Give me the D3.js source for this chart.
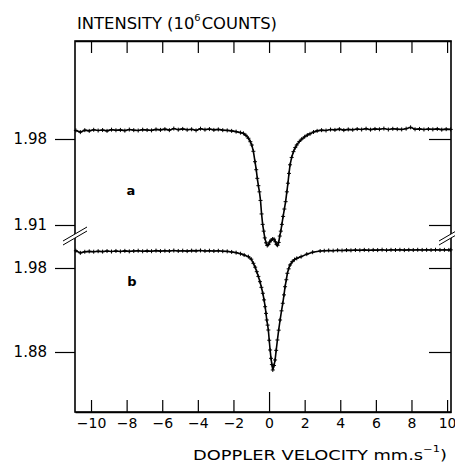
<!DOCTYPE html>
<html>
<head>
<meta charset="utf-8">
<script src="https://cdn.jsdelivr.net/npm/d3@7"></script>
<style>
  body { margin: 0; background: #fff; }
  svg { display: block; font-family: "DejaVu Sans", sans-serif; }
</style>
</head>
<body>
<script>
//spectrum a (upper trace) - doppler velocity (mm/s) and counts (10^6)
var velocityA = [-10.85, -10.6, -10.35, -10.1, -9.85, -9.6, -9.35, -9.1, -8.85, -8.6,
  -8.35, -8.1, -7.85, -7.6, -7.35, -7.1, -6.85, -6.6, -6.35, -6.1,
  -5.85, -5.6, -5.35, -5.1, -4.85, -4.6, -4.35, -4.1, -3.85, -3.6,
  -3.35, -3.1, -2.85, -2.6, -2.35, -2.1, -1.85, -1.6,
  -1.44, -1.3, -1.16, -1.05, -0.97, -0.88, -0.79, -0.72, -0.66, -0.6,
  -0.54, -0.48, -0.42, -0.36, -0.3, -0.24, -0.17, -0.1, -0.03, 0.04,
  0.12, 0.2, 0.28, 0.35, 0.42, 0.48, 0.54, 0.6, 0.66, 0.72,
  0.79, 0.86, 0.93, 1.0, 1.06, 1.12, 1.18, 1.27, 1.37, 1.47,
  1.56, 1.7, 1.84, 2.0, 2.15, 2.3, 2.5, 2.7,
  2.95, 3.2, 3.45, 3.7, 3.95, 4.2, 4.45, 4.7, 4.95, 5.2,
  5.45, 5.7, 5.95, 6.2, 6.45, 6.7, 6.95, 7.2, 7.45, 7.7,
  7.95, 8.2, 8.45, 8.7, 8.95, 9.2, 9.45, 9.7, 9.95, 10.2];
var countsA = [1.9870, 1.9856, 1.9872, 1.9866, 1.9875, 1.9869, 1.9873, 1.9866, 1.9876, 1.9871,
  1.9874, 1.9868, 1.9877, 1.9872, 1.9869, 1.9876, 1.9873, 1.9870, 1.9878, 1.9874,
  1.9880, 1.9872, 1.9885, 1.9876, 1.9882, 1.9875, 1.9879, 1.9870, 1.9884, 1.9876,
  1.9881, 1.9874, 1.9878, 1.9872, 1.9870, 1.9866, 1.9860, 1.9852,
  1.9846, 1.9830, 1.9806, 1.9778, 1.9751, 1.9700, 1.9615, 1.9550, 1.9480, 1.9420,
  1.9370, 1.9300, 1.9190, 1.9105, 1.9050, 1.8995, 1.8955, 1.8933, 1.8942, 1.8962,
  1.8978, 1.8986, 1.8984, 1.8964, 1.8942, 1.8935, 1.8958, 1.9010, 1.9050, 1.9105,
  1.9170, 1.9230, 1.9290, 1.9370, 1.9440, 1.9520, 1.9590, 1.9650, 1.9697, 1.9730,
  1.9752, 1.9780, 1.9800, 1.9818, 1.9832, 1.9842, 1.9857, 1.9866,
  1.9872, 1.9869, 1.9877, 1.9874, 1.9880, 1.9872, 1.9878, 1.9875, 1.9881, 1.9877,
  1.9884, 1.9876, 1.9882, 1.9879, 1.9885, 1.9877, 1.9883, 1.9880, 1.9878, 1.9884,
  1.9895, 1.9879, 1.9882, 1.9877, 1.9881, 1.9878, 1.9882, 1.9876, 1.9880, 1.9878];

//spectrum b (lower trace)
var velocityB = [-10.85, -10.6, -10.35, -10.1, -9.85, -9.6, -9.35, -9.1, -8.85, -8.6,
  -8.35, -8.1, -7.85, -7.6, -7.35, -7.1, -6.85, -6.6, -6.35, -6.1,
  -5.85, -5.6, -5.35, -5.1, -4.85, -4.6, -4.35, -4.1, -3.85, -3.6,
  -3.35, -3.1, -2.85, -2.6, -2.35, -2.1, -1.85, -1.6,
  -1.4, -1.16, -1.0, -0.88, -0.78, -0.69, -0.6, -0.51, -0.43, -0.35,
  -0.28, -0.22, -0.17, -0.13, -0.08, -0.04, 0.01, 0.06, 0.11, 0.16,
  0.21, 0.28, 0.34, 0.4, 0.47, 0.54, 0.62, 0.7, 0.77, 0.84,
  0.9, 0.97, 1.03, 1.1, 1.18, 1.3, 1.43, 1.56, 1.8, 2.12,
  2.45, 2.87,
  3.1, 3.35, 3.6, 3.85, 4.1, 4.35, 4.6, 4.85, 5.1, 5.35,
  5.6, 5.85, 6.1, 6.35, 6.6, 6.85, 7.1, 7.35, 7.6, 7.85,
  8.1, 8.35, 8.6, 8.85, 9.1, 9.35, 9.6, 9.85, 10.1, 10.2];
var countsB = [2.0005, 1.9980, 1.9993, 1.9998, 1.9994, 2.0000, 1.9995, 2.0002, 1.9996, 2.0003,
  1.9997, 2.0004, 1.9998, 2.0002, 2.0006, 1.9999, 2.0004, 2.0000, 2.0007, 2.0001,
  2.0005, 2.0002, 2.0008, 2.0003, 2.0006, 2.0001, 2.0007, 2.0004, 2.0009, 2.0003,
  2.0006, 2.0002, 2.0005, 2.0000, 1.9998, 1.9991, 1.9983, 1.9970,
  1.9955, 1.9935, 1.9905, 1.9856, 1.9810, 1.9756, 1.9700, 1.9637, 1.9570, 1.9499,
  1.9420, 1.9339, 1.9260, 1.9181, 1.9120, 1.9062, 1.8940, 1.8824, 1.8725, 1.8650,
  1.8586, 1.8640, 1.8705, 1.8820, 1.8943, 1.9060, 1.9181, 1.9290, 1.9380, 1.9480,
  1.9577, 1.9660, 1.9737, 1.9790, 1.9836, 1.9875, 1.9900, 1.9915, 1.9935, 1.9965,
  1.9988, 2.0002,
  2.0005, 2.0009, 2.0006, 2.0011, 2.0008, 2.0013, 2.0010, 2.0014, 2.0011, 2.0016,
  2.0012, 2.0015, 2.0013, 2.0018, 2.0012, 2.0016, 2.0014, 2.0017, 2.0013, 2.0016,
  2.0014, 2.0017, 2.0015, 2.0016, 2.0014, 2.0017, 2.0015, 2.0016, 2.0015, 2.0016];

//tick values
var velocityTicks = [-10, -8, -6, -4, -2, 0, 2, 4, 6, 8, 10];
var ticksA = [1.98, 1.91];
var ticksB = [1.98, 1.88];

//frame dimensions
var width = 455,
    height = 464,
    frameL = 75, frameR = 451, frameT = 41, frameB = 412;

var svg = d3.select("body")
    .append("svg")
    .attr("width", width)
    .attr("height", height);

//x scale (doppler velocity)
var x = d3.scaleLinear()
    .domain([-10.9, 10.22])
    .range([frameL, frameR]);

//two y scales, one per trace (broken axis)
var yA = d3.scaleLinear()
    .domain([1.91, 1.98])
    .range([225, 139]);

var yB = d3.scaleLinear()
    .domain([1.88, 1.98])
    .range([352, 268]);

var fmt = d3.format(".2f");

//bottom axis, ticks pointing in
var xAxis = svg.append("g")
    .attr("class", "xaxis")
    .attr("transform", "translate(0," + frameB + ")")
    .call(d3.axisBottom(x).tickValues(velocityTicks)
      .tickSizeInner(-12).tickSizeOuter(0).tickPadding(6)
      .tickFormat(d3.format("d")));
xAxis.selectAll(".tick line")
    .attr("y2", function(d){ return d === 0 ? -20 : -12; });
xAxis.selectAll("text")
    .attr("font-size", 14)
    .attr("font-family", "DejaVu Sans");

//top axis, ticks only
svg.append("g")
    .attr("transform", "translate(0," + frameT + ")")
    .call(d3.axisBottom(x).tickValues(velocityTicks)
      .tickSize(12).tickSizeOuter(0).tickFormat(""));

//left axes with labels
[[yA, ticksA], [yB, ticksB]].forEach(function(p){
  var g = svg.append("g")
      .attr("transform", "translate(" + frameL + ",0)")
      .call(d3.axisLeft(p[0]).tickValues(p[1])
        .tickSize(20).tickPadding(8).tickFormat(fmt));
  g.select(".domain").remove();
  g.selectAll("text")
      .attr("font-size", 15)
      .attr("font-family", "DejaVu Sans");
  //right side, inward ticks
  var r = svg.append("g")
      .attr("transform", "translate(" + frameR + ",0)")
      .call(d3.axisLeft(p[0]).tickValues(p[1])
        .tickSize(22).tickFormat(""));
  r.select(".domain").remove();
});

svg.selectAll(".domain").attr("stroke-width", 1.5);
svg.selectAll(".tick line").attr("stroke-width", 1.2);

//frame
svg.append("rect")
    .attr("x", frameL)
    .attr("y", frameT)
    .attr("width", frameR - frameL)
    .attr("height", frameB - frameT)
    .attr("fill", "none")
    .attr("stroke", "#000")
    .attr("stroke-width", 1.6);

//axis break marks
var breakY = 235;
[frameL, frameR].forEach(function(cx){
  svg.append("path")
      .attr("d", "M" + (cx - 12) + "," + (breakY + 6) + "L" + (cx + 12) + "," + (breakY - 8) +
                 "L" + (cx + 12) + "," + (breakY - 4) + "L" + (cx - 12) + "," + (breakY + 10) + "Z")
      .attr("fill", "#fff");
  [0, 4].forEach(function(o){
    svg.append("line")
        .attr("x1", cx - 12).attr("y1", breakY + 6 + o)
        .attr("x2", cx + 12).attr("y2", breakY - 8 + o)
        .attr("stroke", "#000")
        .attr("stroke-width", 1);
  });
});

//traces
function drawTrace(vel, counts, y){
  var data = d3.zip(vel, counts);
  var line = d3.line()
      .x(function(d){ return x(d[0]); })
      .y(function(d){ return y(d[1]); });

  svg.append("path")
      .datum(data)
      .attr("fill", "none")
      .attr("stroke", "#000")
      .attr("stroke-width", 1.6)
      .attr("d", line);

  //plus markers at each point
  svg.selectAll(null)
      .data(data)
      .enter()
      .append("path")
      .attr("transform", function(d){ return "translate(" + x(d[0]) + "," + y(d[1]) + ")"; })
      .attr("d", "M-2,0h4M0,-2v4")
      .attr("stroke", "#000")
      .attr("stroke-width", 1);
}
drawTrace(velocityA, countsA, yA);
drawTrace(velocityB, countsB, yB);

//trace labels
svg.append("text").attr("x", 131).attr("y", 195)
    .attr("text-anchor", "middle").attr("font-size", 13).attr("font-weight", "bold").text("a");
svg.append("text").attr("x", 132).attr("y", 286)
    .attr("text-anchor", "middle").attr("font-size", 13).attr("font-weight", "bold").text("b");

//y title (one text, superscript as tspan)
var yTitle = svg.append("text")
    .attr("x", 77).attr("y", 29)
    .attr("font-size", 15)
    .attr("textLength", 200).attr("lengthAdjust", "spacingAndGlyphs");
yTitle.append("tspan").text("INTENSITY (10");
yTitle.append("tspan").attr("font-size", 9).attr("dy", -8).text("6");
yTitle.append("tspan").attr("dy", 8).attr("dx", 1).text("COUNTS)");

//x title
var xTitle = svg.append("text")
    .attr("x", 193).attr("y", 460)
    .attr("font-size", 14)
    .attr("textLength", 254).attr("lengthAdjust", "spacingAndGlyphs");
xTitle.append("tspan").text("DOPPLER VELOCITY mm.s");
xTitle.append("tspan").attr("font-size", 9).attr("dy", -8).text("\u22121");
xTitle.append("tspan").attr("dy", 8).text(")");
</script>
</body>
</html>
